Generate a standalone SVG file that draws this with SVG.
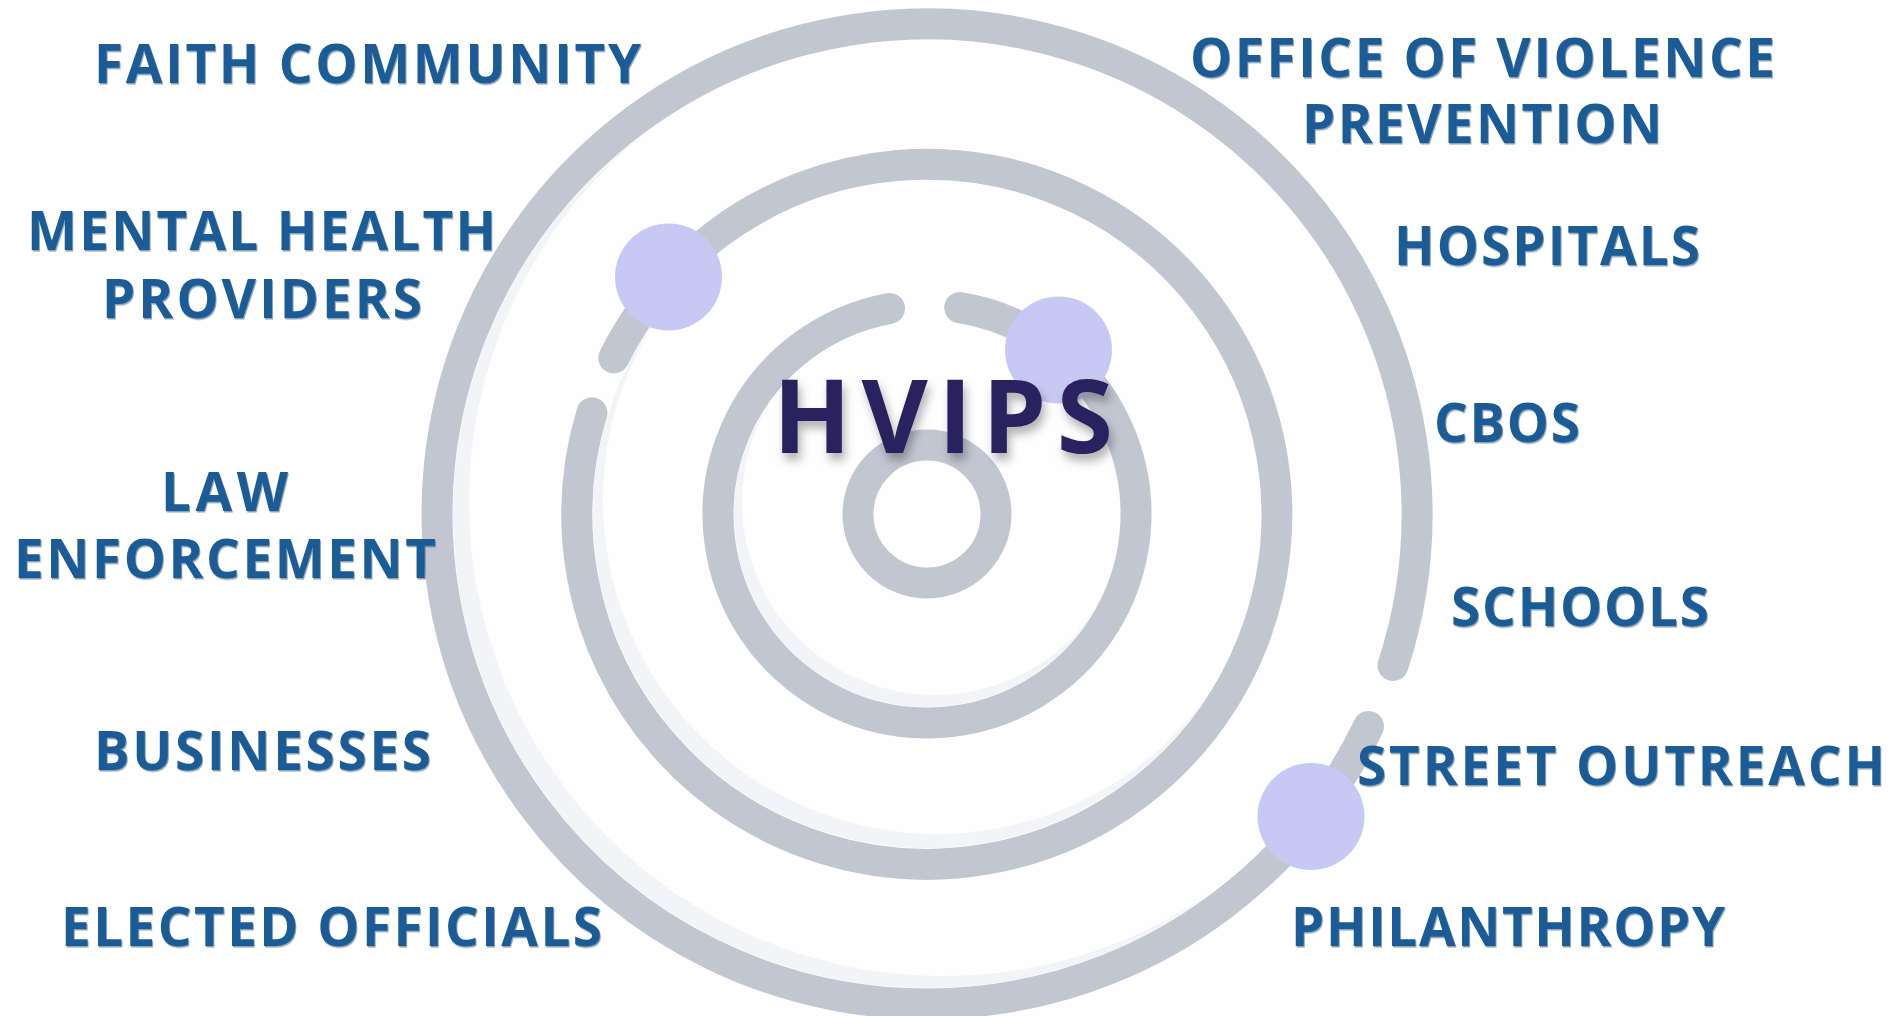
<svg xmlns="http://www.w3.org/2000/svg" width="1895" height="1016" viewBox="0 0 1895 1016">
<defs>
<style>
.ring{fill:none;stroke:#c2c6d1;stroke-width:31;stroke-linecap:round}
.shade{fill:#f3f4f7}
.cover{fill:#fefefe}
.dot{fill:#c8c8f4}
.lbl{font-family:"Open Sans","Liberation Sans",sans-serif;font-weight:700;font-size:53px;fill:#1b5b96;filter:url(#lblsh)}
.title{font-family:"Open Sans","Liberation Sans",sans-serif;font-weight:700;font-size:102px;fill:#29245f;filter:url(#tsh)}
</style>
<filter id="lblsh" x="-5%" y="-20%" width="110%" height="150%">
<feDropShadow dx="1" dy="1.5" stdDeviation="0.4" flood-color="#0f3558" flood-opacity="0.45"/>
</filter>
<filter id="tsh" x="-10%" y="-20%" width="120%" height="160%">
<feDropShadow dx="3" dy="7" stdDeviation="5" flood-color="#000000" flood-opacity="0.3"/>
</filter>
</defs>
<rect width="1895" height="1016" fill="#fefefe"/>
<g id="shading">
<circle class="shade" cx="927" cy="514" r="474"/>
<circle class="cover" cx="943" cy="502" r="474"/>
<circle class="shade" cx="927" cy="514" r="334"/>
<circle class="cover" cx="937" cy="500" r="334"/>
<circle class="shade" cx="927" cy="514" r="193"/>
<circle class="cover" cx="935" cy="502" r="193"/>
</g>
<g id="orbits">
<circle class="ring" cx="927" cy="514" r="69"/>
<path class="ring" d="M959.7,307.6 A209,209 0 1 1 889.6,308.4"/>
<path class="ring" d="M613.8,357.8 A350,350 0 1 1 591.9,412.8"/>
<path class="ring" d="M1368.5,726.5 A490,490 0 1 1 1393,665.4"/>
</g>
<g id="dots">
<circle class="dot" cx="668.5" cy="277" r="53.5"/>
<circle class="dot" cx="1058.5" cy="350" r="53.5"/>
<circle class="dot" cx="1311" cy="816.5" r="53.5"/>
</g>
<g id="hvips">
<text class="title" x="773" y="453" textLength="340" lengthAdjust="spacing">HVIPS</text>
</g>
<g id="faith-community"><text class="lbl" x="94" y="83" textLength="547" lengthAdjust="spacing">FAITH COMMUNITY</text></g>
<g id="mental-health-providers">
<text class="lbl" x="27" y="250" textLength="469" lengthAdjust="spacing">MENTAL HEALTH</text>
<text class="lbl" x="102" y="318" textLength="320" lengthAdjust="spacing">PROVIDERS</text>
</g>
<g id="law-enforcement">
<text class="lbl" x="161" y="511" textLength="127" lengthAdjust="spacing">LAW</text>
<text class="lbl" x="14" y="578" textLength="422" lengthAdjust="spacing">ENFORCEMENT</text>
</g>
<g id="businesses"><text class="lbl" x="94" y="770" textLength="337" lengthAdjust="spacing">BUSINESSES</text></g>
<g id="elected-officials"><text class="lbl" x="61" y="946" textLength="541" lengthAdjust="spacing">ELECTED OFFICIALS</text></g>
<g id="office-of-violence-prevention">
<text class="lbl" x="1190" y="77" textLength="585" lengthAdjust="spacing">OFFICE OF VIOLENCE</text>
<text class="lbl" x="1302" y="143" textLength="360" lengthAdjust="spacing">PREVENTION</text>
</g>
<g id="hospitals"><text class="lbl" x="1394" y="265" textLength="306" lengthAdjust="spacing">HOSPITALS</text></g>
<g id="cbos"><text class="lbl" x="1434" y="442" textLength="146" lengthAdjust="spacing">CBOS</text></g>
<g id="schools"><text class="lbl" x="1451" y="626" textLength="258" lengthAdjust="spacing">SCHOOLS</text></g>
<g id="street-outreach"><text class="lbl" x="1357" y="785" textLength="528" lengthAdjust="spacing">STREET OUTREACH</text></g>
<g id="philanthropy"><text class="lbl" x="1291" y="946" textLength="434" lengthAdjust="spacing">PHILANTHROPY</text></g>
</svg>
